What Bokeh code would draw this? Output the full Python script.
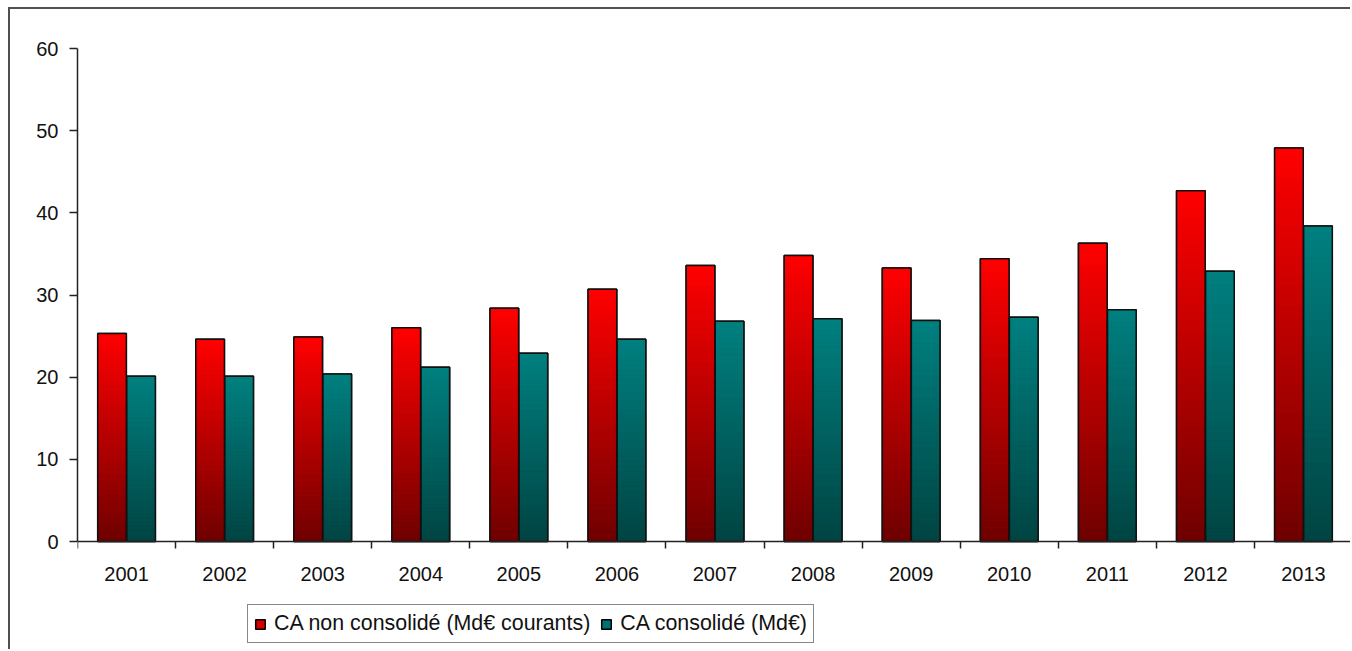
from bokeh.plotting import figure
from bokeh.models import ColumnDataSource, FixedTicker, Legend, LegendItem, Range1d
from bokeh.embed import file_html
from bokeh.resources import INLINE

years = ["2001", "2002", "2003", "2004", "2005", "2006", "2007",
         "2008", "2009", "2010", "2011", "2012", "2013"]
ca_non_consolide = [25.3, 24.6, 24.9, 26.0, 28.4, 30.7, 33.6,
                    34.8, 33.3, 34.4, 36.3, 42.7, 47.9]
ca_consolide = [20.1, 20.1, 20.4, 21.2, 22.9, 24.6, 26.8,
                27.1, 26.9, 27.3, 28.2, 32.9, 38.4]
series_names = ["CA non consolidé (Md€ courants)", "CA consolidé (Md€)"]
y_ticks = [0, 10, 20, 30, 40, 50, 60]

FONT = "Liberation Sans"
RED_TOP, RED_BOT = (255, 0, 0), (110, 0, 0)
TEAL_TOP, TEAL_BOT = (0, 128, 128), (0, 68, 66)
OFFSET, WIDTH = 0.148, 0.292
K = 40

# layout: value 60 at frame top, value 0 placed 110px above frame bottom
FRAME_H = 603
Y_MAX = 60
Y_MIN = -Y_MAX * 110 / (FRAME_H - 110)

centers = [i + 0.5 for i in range(len(years))]


def hexcol(c):
    return "#%02x%02x%02x" % tuple(int(round(v)) for v in c)


def slices(values, xs, top_c, bot_c):
    d = dict(x=[], bottom=[], top=[], color=[])
    for x, v in zip(xs, values):
        for k in range(K):
            t = (k + 0.5) / K
            col = [bot_c[j] + (top_c[j] - bot_c[j]) * t for j in range(3)]
            d["x"].append(x)
            d["bottom"].append(v * k / K)
            d["top"].append(v * (k + 1) / K)
            d["color"].append(hexcol(col))
    return ColumnDataSource(d)


p = figure(width=1342, height=642, x_range=Range1d(0, 13),
           y_range=Range1d(Y_MIN, Y_MAX),
           output_backend="svg", toolbar_location=None,
           min_border_left=67, min_border_right=0, min_border_top=39,
           min_border_bottom=0)
p.styles = {"margin-left": "8px", "margin-top": "7px",
            "border-left": "2px solid #505050", "border-top": "2px solid #505050"}
p.outline_line_color = None
p.xgrid.visible = False
p.ygrid.visible = False
p.background_fill_color = "white"
p.border_fill_color = "white"

xr = [c - OFFSET for c in centers]
xt = [c + OFFSET for c in centers]

# base bars (used for legend)
base_r = p.vbar(x=xr, top=ca_non_consolide, width=WIDTH, fill_color="#d40000",
                line_color="black", line_width=1.5)
base_t = p.vbar(x=xt, top=ca_consolide, width=WIDTH, fill_color="#007070",
                line_color="black", line_width=1.5)

# gradient slices
sr = slices(ca_non_consolide, xr, RED_TOP, RED_BOT)
st = slices(ca_consolide, xt, TEAL_TOP, TEAL_BOT)
for s in (sr, st):
    p.vbar(x="x", bottom="bottom", top="top", width=WIDTH, source=s,
           fill_color="color", line_color="color", line_width=0.6)

# outlines
p.vbar(x=xr, top=ca_non_consolide, width=WIDTH, fill_color=None,
       line_color="#111111", line_width=1.5)
p.vbar(x=xt, top=ca_consolide, width=WIDTH, fill_color=None,
       line_color="#111111", line_width=1.5)

# x axis, drawn at y = 0
p.xaxis.fixed_location = 0
p.xaxis.ticker = FixedTicker(ticks=centers, minor_ticks=list(range(len(years) + 1)))
p.xaxis.major_label_overrides = {c: y for c, y in zip(centers, years)}
p.xaxis.major_tick_out = 0
p.xaxis.major_tick_in = 0
p.xaxis.minor_tick_out = 7
p.xaxis.minor_tick_in = 0
p.xaxis.minor_tick_line_color = "#222222"
p.xaxis.minor_tick_line_width = 1.5
p.xaxis.axis_line_color = "#222222"
p.xaxis.axis_line_width = 1.5
p.xaxis.major_label_standoff = 18
p.xaxis.major_label_text_font = FONT
p.xaxis.major_label_text_font_size = "20px"
p.xaxis.major_label_text_color = "#111111"

# y axis
p.yaxis.bounds = (0, Y_MAX)
p.yaxis.ticker = FixedTicker(ticks=y_ticks)
p.yaxis.major_tick_out = 8
p.yaxis.major_tick_in = 0
p.yaxis.minor_tick_out = 0
p.yaxis.minor_tick_in = 0
p.yaxis.major_tick_line_color = "#222222"
p.yaxis.major_tick_line_width = 1.5
p.yaxis.axis_line_color = "#222222"
p.yaxis.axis_line_width = 1.5
p.yaxis.major_label_standoff = 11
p.yaxis.major_label_text_font = FONT
p.yaxis.major_label_text_font_size = "20px"
p.yaxis.major_label_text_color = "#111111"

legend = Legend(items=[LegendItem(label=series_names[0], renderers=[base_r]),
                       LegendItem(label=series_names[1], renderers=[base_t])],
                location=(170, 8), orientation="horizontal")
legend.label_text_font = FONT
legend.label_text_font_size = "21.4px"
legend.label_text_color = "#111111"
legend.glyph_width = 12
legend.glyph_height = 12
legend.label_standoff = 8
legend.spacing = 10
legend.padding = 6
legend.margin = 0
legend.border_line_color = "#111111"
legend.border_line_width = 1.5
legend.background_fill_color = "white"
legend.background_fill_alpha = 1
p.add_layout(legend, "center")

open("out.html", "w").write(file_html(p, INLINE))
